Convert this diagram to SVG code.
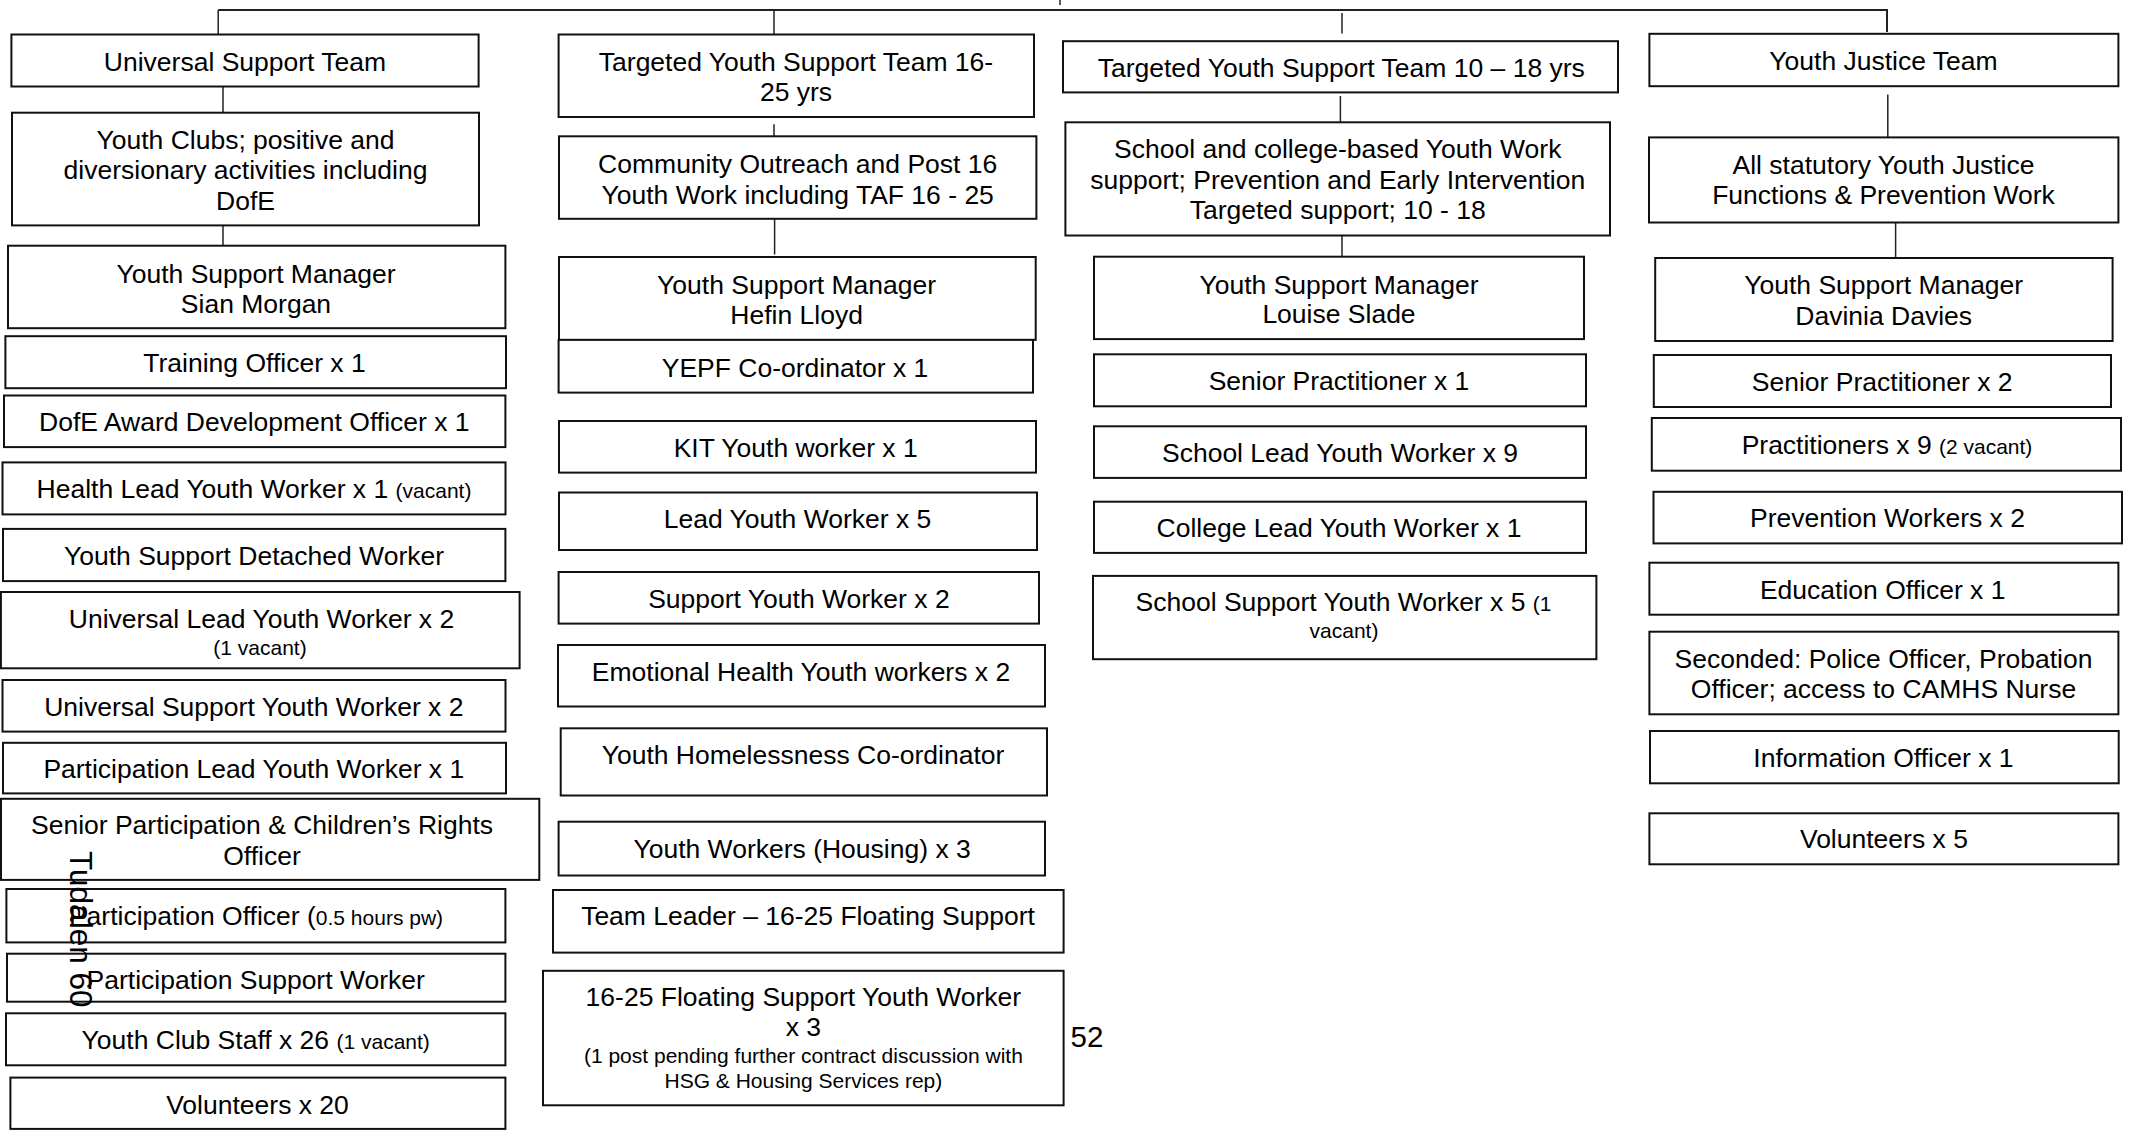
<svg xmlns="http://www.w3.org/2000/svg" width="2134" height="1130" viewBox="0 0 2134 1130">
<style>
.b{fill:#fff;stroke:#111;stroke-width:2}
.c{stroke:#222;stroke-width:1.5;fill:none}
text{font-family:"Liberation Sans",Arial,sans-serif;font-size:26.5px;fill:#000}
.t{text-anchor:middle}
.s{font-size:21px}
</style>
<rect width="2134" height="1130" fill="#fff"/>
<g id="connectors">
<path class="c" d="M218.2,10 H1887 V32" style="stroke-width:2"/>
<path class="c" d="M1060,0 V5"/>
<path class="c" d="M218.2,10 V34.5"/>
<path class="c" d="M223,86.5 V112.7"/>
<path class="c" d="M223,225.4 V245.7"/>
<path class="c" d="M774,10 V34.5"/>
<path class="c" d="M774,124.3 V136.3"/>
<path class="c" d="M774.6,218.8 V254.5"/>
<path class="c" d="M1342,13 V33.4"/>
<path class="c" d="M1340.4,96 V122.3"/>
<path class="c" d="M1342,235.5 V256.7"/>
<path class="c" d="M1887.8,94.5 V137.4"/>
<path class="c" d="M1895.6,222.5 V258"/>
</g>
<g id="universal-support-team"><rect class="b" x="11.4" y="34.5" width="467.2" height="52"/><text class="t" x="245" y="70.9">Universal Support Team</text></g>
<g id="youth-clubs"><rect class="b" x="12" y="112.7" width="467" height="112.7"/><text class="t" x="245.5" y="149">Youth Clubs; positive and</text><text class="t" x="245.5" y="179.4">diversionary activities including</text><text class="t" x="245.5" y="209.8">DofE</text></g>
<g id="ysm-sian"><rect class="b" x="8" y="245.7" width="497.4" height="82.5"/><text class="t" x="256" y="282.5">Youth Support Manager</text><text class="t" x="256" y="312.6">Sian Morgan</text></g>
<g id="training-officer"><rect class="b" x="5.4" y="336.2" width="500.6" height="52"/><text class="t" x="254.5" y="372">Training Officer x 1</text></g>
<g id="dofe-officer"><rect class="b" x="4" y="395.5" width="501.4" height="51.6"/><text class="t" x="254.3" y="430.8">DofE Award Development Officer x 1</text></g>
<g id="health-lead"><rect class="b" x="2.5" y="462.4" width="503" height="52"/><text class="t" x="254" y="498">Health Lead Youth Worker x 1 <tspan class="s">(vacant)</tspan></text></g>
<g id="detached-worker"><rect class="b" x="3" y="528.9" width="502.4" height="52.2"/><text class="t" x="254" y="564.5">Youth Support Detached Worker</text></g>
<g id="universal-lead"><rect class="b" x="0.9" y="592" width="518.7" height="76.3"/><text class="t" x="261.5" y="628.3">Universal Lead Youth Worker x 2</text><text class="t s" x="260" y="654.5">(1 vacant)</text></g>
<g id="universal-support-yw"><rect class="b" x="2.5" y="680" width="503" height="51.6"/><text class="t" x="253.8" y="715.5">Universal Support Youth Worker x 2</text></g>
<g id="participation-lead"><rect class="b" x="3" y="742.8" width="503" height="50.6"/><text class="t" x="253.8" y="778">Participation Lead Youth Worker x 1</text></g>
<g id="senior-participation"><rect class="b" x="1" y="798.8" width="538.3" height="81.1"/><text class="t" x="262" y="834.4">Senior Participation &amp; Children’s Rights</text><text class="t" x="262" y="865.3">Officer</text></g>
<g id="participation-officer"><rect class="b" x="6.4" y="889" width="499" height="53.4"/><text class="t" x="256" y="925.3">Participation Officer (<tspan class="s">0.5 hours pw)</tspan></text></g>
<g id="participation-support"><rect class="b" x="7" y="953.7" width="498.4" height="48"/><text class="t" x="255.7" y="989">Participation Support Worker</text></g>
<g id="youth-club-staff"><rect class="b" x="6" y="1013.3" width="499.4" height="52"/><text class="t" x="255.7" y="1049">Youth Club Staff x 26 <tspan class="s">(1 vacant)</tspan></text></g>
<g id="volunteers-20"><rect class="b" x="10.4" y="1077.6" width="495" height="51.3"/><text class="t" x="257.5" y="1114.3">Volunteers x 20</text></g>

<g id="targeted-16-25"><rect class="b" x="558.6" y="34.5" width="475.4" height="82.5"/><text class="t" x="796" y="70.9">Targeted Youth Support Team 16-</text><text class="t" x="796" y="101">25 yrs</text></g>
<g id="community-outreach"><rect class="b" x="559" y="136.3" width="477.4" height="82.5"/><text class="t" x="797.7" y="172.7">Community Outreach and Post 16</text><text class="t" x="797.7" y="203.5">Youth Work including TAF 16 - 25</text></g>
<g id="ysm-hefin"><rect class="b" x="559" y="257" width="476.7" height="82.9"/><text class="t" x="796.6" y="293.7">Youth Support Manager</text><text class="t" x="796.6" y="323.5">Hefin Lloyd</text></g>
<g id="yepf"><rect class="b" x="558.6" y="339.9" width="474.4" height="52.7"/><text class="t" x="795" y="377">YEPF Co-ordinator x 1</text></g>
<g id="kit"><rect class="b" x="559" y="421" width="477" height="51.6"/><text class="t" x="795.7" y="457">KIT Youth worker x 1</text></g>
<g id="lead-yw"><rect class="b" x="559" y="492.5" width="478" height="57.5"/><text class="t" x="797.5" y="528">Lead Youth Worker x 5</text></g>
<g id="support-yw"><rect class="b" x="558.6" y="572" width="480.4" height="51.6"/><text class="t" x="798.9" y="608.3">Support Youth Worker x 2</text></g>
<g id="emotional-health"><rect class="b" x="558" y="645" width="487" height="61.5"/><text class="t" x="801" y="680.7">Emotional Health Youth workers x 2</text></g>
<g id="homelessness"><rect class="b" x="560.7" y="728.3" width="486.3" height="67.2"/><text class="t" x="803" y="764.3">Youth Homelessness Co-ordinator</text></g>
<g id="housing"><rect class="b" x="558.6" y="821.7" width="486.4" height="53.8"/><text class="t" x="802.1" y="857.5">Youth Workers (Housing) x 3</text></g>
<g id="team-leader"><rect class="b" x="553" y="890" width="510.6" height="62.6"/><text class="t" x="808" y="925.3">Team Leader – 16-25 Floating Support</text></g>
<g id="floating"><rect class="b" x="543" y="970.8" width="520.6" height="134.5"/><text class="t" x="803.4" y="1006.4">16-25 Floating Support Youth Worker</text><text class="t" x="803.4" y="1036.2">x 3</text><text class="t s" x="803.4" y="1062.7">(1 post pending further contract discussion with</text><text class="t s" x="803.4" y="1087.8">HSG &amp; Housing Services rep)</text></g>

<g id="targeted-10-18"><rect class="b" x="1063" y="41.2" width="555" height="51.2"/><text class="t" x="1341.3" y="76.8">Targeted Youth Support Team 10 – 18 yrs</text></g>
<g id="school-college"><rect class="b" x="1065.4" y="122.3" width="544.6" height="113.2"/><text class="t" x="1337.7" y="158">School and college-based Youth Work</text><text class="t" x="1337.7" y="188.6">support; Prevention and Early Intervention</text><text class="t" x="1337.7" y="219">Targeted support; 10 - 18</text></g>
<g id="ysm-louise"><rect class="b" x="1094" y="256.7" width="490" height="82.4"/><text class="t" x="1339" y="293.5">Youth Support Manager</text><text class="t" x="1339" y="323">Louise Slade</text></g>
<g id="senior-practitioner-1"><rect class="b" x="1094" y="354.3" width="492" height="52"/><text class="t" x="1339" y="390">Senior Practitioner x 1</text></g>
<g id="school-lead"><rect class="b" x="1094" y="426.3" width="492" height="51.6"/><text class="t" x="1340" y="461.7">School Lead Youth Worker x 9</text></g>
<g id="college-lead"><rect class="b" x="1094" y="501.7" width="492" height="51.2"/><text class="t" x="1339" y="537.3">College Lead Youth Worker x 1</text></g>
<g id="school-support"><rect class="b" x="1093" y="575.9" width="503.4" height="83.3"/><text class="t" x="1343.5" y="611.4">School Support Youth Worker x 5 <tspan class="s">(1</tspan></text><text class="t s" x="1344" y="637.5">vacant)</text></g>

<g id="youth-justice-team"><rect class="b" x="1649.4" y="33.8" width="469" height="52.4"/><text class="t" x="1883.5" y="69.7">Youth Justice Team</text></g>
<g id="statutory"><rect class="b" x="1649" y="137.4" width="469.4" height="85.1"/><text class="t" x="1883.5" y="173.8">All statutory Youth Justice</text><text class="t" x="1883.5" y="204.3">Functions &amp; Prevention Work</text></g>
<g id="ysm-davinia"><rect class="b" x="1655.2" y="258" width="457.4" height="83"/><text class="t" x="1883.7" y="294.4">Youth Support Manager</text><text class="t" x="1883.7" y="324.6">Davinia Davies</text></g>
<g id="senior-practitioner-2"><rect class="b" x="1653.8" y="355" width="457.2" height="52"/><text class="t" x="1882.2" y="390.7">Senior Practitioner x 2</text></g>
<g id="practitioners"><rect class="b" x="1651.8" y="418" width="469.2" height="52.7"/><text class="t" x="1887" y="454.3">Practitioners x 9 <tspan class="s">(2 vacant)</tspan></text></g>
<g id="prevention"><rect class="b" x="1653.5" y="491.8" width="468.5" height="51.6"/><text class="t" x="1887.5" y="527.1">Prevention Workers x 2</text></g>
<g id="education"><rect class="b" x="1649.4" y="562.7" width="469" height="52"/><text class="t" x="1882.7" y="599">Education Officer x 1</text></g>
<g id="seconded"><rect class="b" x="1649.4" y="631.7" width="469" height="82.6"/><text class="t" x="1883.5" y="668.2">Seconded: Police Officer, Probation</text><text class="t" x="1883.5" y="697.5">Officer; access to CAMHS Nurse</text></g>
<g id="information"><rect class="b" x="1650" y="731" width="468.7" height="52.3"/><text class="t" x="1883.4" y="766.7">Information Officer x 1</text></g>
<g id="volunteers-5"><rect class="b" x="1649.4" y="813.3" width="469" height="51"/><text class="t" x="1883.9" y="848.3">Volunteers x 5</text></g>

<text x="1070.5" y="1047" style="font-size:29.5px">52</text>
<text x="69.5" y="851" transform="rotate(90 69.5 851)" style="font-size:31.5px">Tudalen 60</text>
</svg>
